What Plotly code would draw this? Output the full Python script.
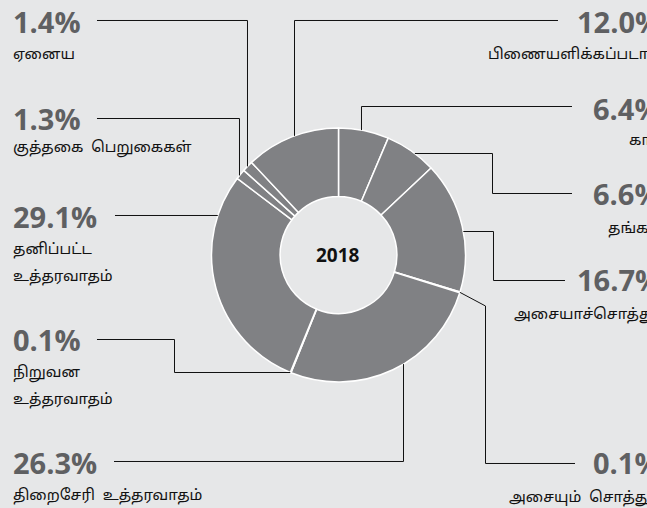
import math
import plotly.graph_objects as go

# ---- data ----
categories = ["காசு", "தங்கம்", "அசையாச்சொத்து", "அசையும் சொத்து",
              "திறைசேரி உத்தரவாதம்", "நிறுவன உத்தரவாதம்", "தனிப்பட்ட உத்தரவாதம்",
              "குத்தகை பெறுகைகள்", "ஏனைய", "பிணையளிக்கப்படாதவை"]
values = [6.4, 6.6, 16.7, 0.1, 26.3, 0.1, 29.1, 1.3, 1.4, 12.0]
name_lines = [["காசு"], ["தங்கம்"], ["அசையாச்சொத்து"], ["அசையும்\u00a0\u00a0சொத்து"],
              ["திறைசேரி\u00a0\u00a0உத்தரவாதம்"], ["நிறுவன", "உத்தரவாதம்"], ["தனிப்பட்ட", "உத்தரவாதம்"],
              ["குத்தகை\u00a0\u00a0பெறுகைகள்"], ["ஏனைய"], ["பிணையளிக்கப்படாதவை"]]
center_label = "2018"

# ---- geometry / style ----
W, H = 647, 508
CX, CY, R = 338.5, 255.0, 127.0
HOLE = 0.46
BG = "#e6e7e8"
SLICE = "#808184"
PCT_COLOR = "#5f6062"
LINE_COLOR = "#111111"
FONT_PCT = "Open Sans"
FONT_TA = "Noto Sans Tamil, Lohit Tamil, Latha, Noto Sans, sans-serif"


def px(x):
    return x / W


def py(y):
    return 1 - y / H


def edge_y(x, side):
    d = math.sqrt(max(R * R - (x - CX) ** 2, 0))
    return CY - d if side == "top" else CY + d


def edge_x(y, side):
    d = math.sqrt(max(R * R - (y - CY) ** 2, 0))
    return CX - d if side == "left" else CX + d


def mid_point(i):
    tot = sum(values)
    frac = (sum(values[:i]) + values[i] / 2) / tot
    a = 2 * math.pi * frac
    return CX + R * math.sin(a), CY - R * math.cos(a)


# label layout: (index, pct_x, pct_y, name_x, name_ys, leader points) ; lines on pixel centres (+0.5)
layout_spec = [
    (8, 11, 21, 11, [55], [(97, 20.5), (247.5, 20.5), (247.5, edge_y(247.5, "top"))]),
    (7, 11, 118, 11, [149], [(97, 118.5), (239.5, 118.5), (239.5, edge_y(239.5, "top"))]),
    (6, 11, 216, 11, [250, 277], [(115, 215.5), (edge_x(215.5, "left"), 215.5)]),
    (5, 11, 339, 11, [373, 400], [(97, 339.5), (174.5, 339.5), (174.5, 372.5), (edge_x(372.5, "left"), 372.5)]),
    (4, 11, 462, 11, [496], [(114, 461.5), (403.5, 461.5), (403.5, edge_y(403.5, "bottom"))]),
    (9, 575, 21, 486, [55], [(558, 20.5), (294.5, 20.5), (294.5, edge_y(294.5, "top"))]),
    (0, 591, 108, 627, [142], [(572, 106.5), (361.5, 106.5), (361.5, edge_y(361.5, "top"))]),
    (1, 591, 193, 606, [229], [(572, 193.5), (492.5, 193.5), (492.5, 153.5), (edge_x(153.5, "right"), 153.5)]),
    (2, 575, 279, 512, [315], [(565, 280.5), (493.5, 280.5), (493.5, 231.5), (edge_x(231.5, "right"), 231.5)]),
    (3, 591, 462, 507, [498], [(575, 463.5), (485.5, 463.5), (485.5, 306), mid_point(3)]),
]

fig = go.Figure()
fig.add_trace(go.Pie(
    labels=categories, values=values, sort=False, direction="clockwise", rotation=0,
    hole=HOLE, textinfo="none", hoverinfo="label+percent",
    marker=dict(colors=[SLICE] * len(values), line=dict(color="white", width=1.5)),
    domain=dict(x=[px(CX - R), px(CX + R)], y=[py(CY + R), py(CY - R)]),
    showlegend=False,
))

annotations = [dict(text=f"<b>{center_label}</b>", x=px(CX), y=py(CY), xref="paper", yref="paper",
                    showarrow=False, xanchor="center", yanchor="middle",
                    font=dict(family=FONT_PCT, size=19, color="#111111"))]
shapes = []
for idx, pxx, pyy, nx, nys, pts in layout_spec:
    annotations.append(dict(text=f"<b>{values[idx]:.1f}%</b>", x=px(pxx), y=py(pyy),
                            xref="paper", yref="paper", showarrow=False,
                            xanchor="left", yanchor="middle",
                            font=dict(family=FONT_PCT, size=29, color=PCT_COLOR)))
    for line, ny in zip(name_lines[idx], nys):
        annotations.append(dict(text=line, x=px(nx), y=py(ny), xref="paper", yref="paper",
                                showarrow=False, xanchor="left", yanchor="middle",
                                font=dict(family=FONT_TA, size=15, color="#111111")))
    path = "M " + " L ".join(f"{px(x):.5f},{py(y):.5f}" for x, y in pts)
    shapes.append(dict(type="path", path=path, xref="paper", yref="paper",
                       line=dict(color=LINE_COLOR, width=1)))

fig.update_layout(
    width=W, height=H, margin=dict(l=0, r=0, t=0, b=0),
    paper_bgcolor=BG, plot_bgcolor=BG,
    annotations=annotations, shapes=shapes,
)
fig.write_html("out.html", config={"displayModeBar": False},
               post_script="document.body.style.margin='0';document.body.style.overflow='hidden';")
